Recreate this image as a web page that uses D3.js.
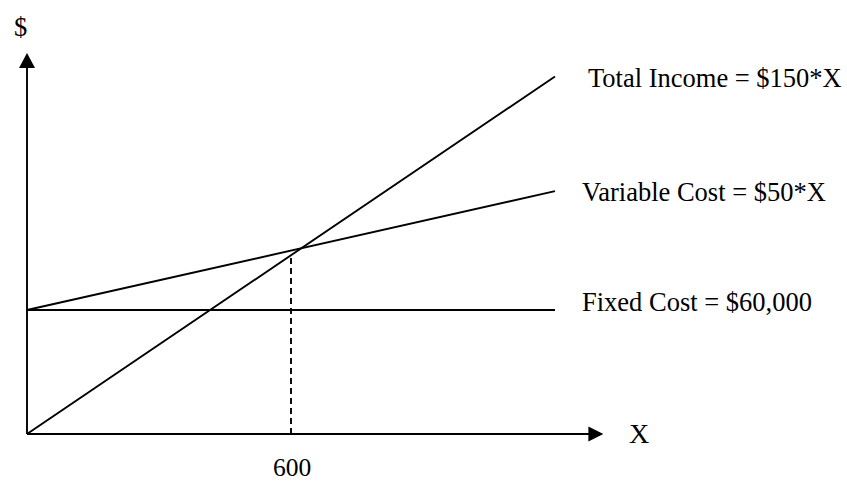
<!DOCTYPE html>
<html>
<head>
<meta charset="utf-8">
<script src="https://cdn.jsdelivr.net/npm/d3@7"></script>
<style>
  html, body { margin: 0; padding: 0; background: #fff; }
  svg text { font-family: "Liberation Serif", "Times New Roman", serif; fill: #000; }
</style>
</head>
<body>
<svg id="chart" width="847" height="482"></svg>
<script>
// ---- data ----
const units = [0, 1200];                 // X, start and end of the drawn lines
const totalIncome = [0, 173000];         // Total Income = $150*X
const variableCost = [60000, 117500];    // Fixed + variable cost line
const fixedCost = [60000, 60000];        // Fixed Cost = $60,000
const breakEvenX = 600;
const breakEvenDash = [0, 87000];
const axisEnd = { x: 1310, y: 184400 };
const tickLabels = ["600"];
const lineLabels = ["Total Income = $150*X", "Variable Cost = $50*X", "Fixed Cost = $60,000"];
const axisLabels = { x: "X", y: "$" };

// ---- scales ----
const x = d3.scaleLinear().domain([0, 1200]).range([27, 555]);
const y = d3.scaleLinear().domain([0, 60000]).range([434, 310]);

const svg = d3.select("#chart");
const line = d3.line().x(d => x(d[0])).y(d => y(d[1]));
const sw = 1.9;

// axes
const ax0 = x(0), ay0 = y(0);
const axTip = x(axisEnd.x), ayTip = y(axisEnd.y);
svg.append("line").attr("x1", ax0).attr("y1", ay0).attr("x2", axTip - 10).attr("y2", ay0)
  .attr("stroke", "#000").attr("stroke-width", sw);
svg.append("line").attr("x1", ax0).attr("y1", ay0).attr("x2", ax0).attr("y2", ayTip + 10)
  .attr("stroke", "#000").attr("stroke-width", sw);
svg.append("path")
  .attr("d", `M${axTip},${ay0} L${axTip - 15},${ay0 - 7.5} L${axTip - 15},${ay0 + 7.5} Z`)
  .attr("fill", "#000");
svg.append("path")
  .attr("d", `M${ax0},${ayTip} L${ax0 - 8},${ayTip + 15} L${ax0 + 8},${ayTip + 15} Z`)
  .attr("fill", "#000");

// lines
const series = [totalIncome, variableCost, fixedCost];
series.forEach(s => {
  svg.append("path")
    .attr("d", line(units.map((u, i) => [u, s[i]])))
    .attr("fill", "none").attr("stroke", "#000").attr("stroke-width", sw);
});

// break-even dashed line
svg.append("path")
  .attr("d", line(breakEvenDash.map(v => [breakEvenX, v])))
  .attr("fill", "none").attr("stroke", "#000").attr("stroke-width", sw)
  .attr("stroke-dasharray", "6,4");

// labels
const fs = 26.5;
const labelPos = [[588, 87], [582, 201], [582, 311]];
lineLabels.forEach((t, i) => {
  svg.append("text").attr("x", labelPos[i][0]).attr("y", labelPos[i][1])
    .attr("font-size", fs).text(t);
});
svg.append("text").attr("x", x(breakEvenX) + 1).attr("y", 476)
  .attr("text-anchor", "middle").attr("font-size", 25.5).text(tickLabels[0]);
svg.append("text").attr("x", 629).attr("y", 443).attr("font-size", 28).text(axisLabels.x);
svg.append("text").attr("x", 14).attr("y", 36).attr("font-size", fs).text(axisLabels.y);
</script>
</body>
</html>
